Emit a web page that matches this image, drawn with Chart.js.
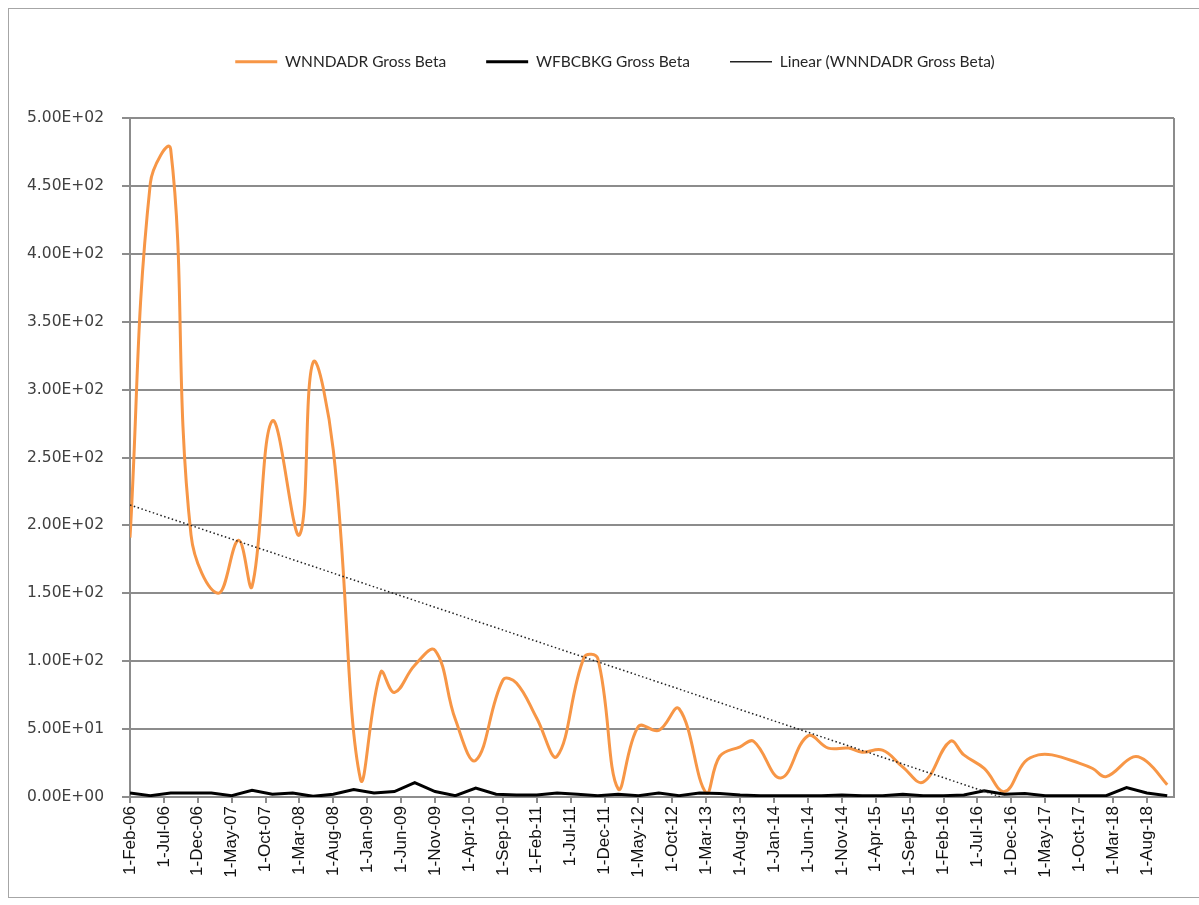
<!DOCTYPE html>
<html>
<head>
<meta charset="utf-8">
<script src="https://cdn.jsdelivr.net/npm/chart.js@4.4.1/dist/chart.umd.min.js"></script>
<style>
  html, body { margin: 0; padding: 0; background: #fff; }
  #wrap { position: relative; width: 1199px; height: 905px; }
  #frame { position: absolute; left: 8px; top: 8px; width: 1200px; height: 888px; border: 1px solid #a6a6a6; pointer-events: none; }
  canvas { position: absolute; left: 0; top: 0; }
</style>
</head>
<body>
<div id="wrap">
  <canvas id="myChart" width="1199" height="905"></canvas>
  <div id="frame"></div>
</div>
<script>
// WNNDADR observation dates (year-month) and values
const wnnDates = [
  '2006-02','2006-05','2006-08','2006-11','2007-03','2007-06','2007-08','2007-11',
  '2008-03','2008-05','2008-08','2008-12','2009-03','2009-05','2009-08','2009-11',
  '2010-02','2010-05','2010-09','2010-11','2011-02','2011-05','2011-09','2011-11',
  '2012-02','2012-05','2012-08','2012-11','2013-03','2013-05','2013-08','2013-10',
  '2014-02','2014-06','2014-09','2014-12','2015-02','2015-05','2015-08','2015-11',
  '2016-03','2016-05','2016-08','2016-11','2017-02','2017-04','2017-06','2017-10',
  '2017-12','2018-02','2018-06','2018-08','2018-11'
];
const wnndadr = [
  191, 452, 477, 193, 150, 189, 155, 277,
  193, 320, 255, 13, 92, 77, 97, 108,
  57, 27, 86, 84, 58, 30, 103, 102,
  6, 52, 49, 65, 3, 30, 37, 41,
  14, 45, 36, 36, 33, 34.5, 22, 11,
  41, 31, 21, 4, 26, 31, 31, 25,
  21, 15, 29.5, 26, 9
];

// WFBCBKG quarterly dates and values
const wfbDates = [
  '2006-02','2006-05','2006-08','2006-11','2007-02','2007-05','2007-08','2007-11',
  '2008-02','2008-05','2008-08','2008-11','2009-02','2009-05','2009-08','2009-11',
  '2010-02','2010-05','2010-08','2010-11','2011-02','2011-05','2011-08','2011-11',
  '2012-02','2012-05','2012-08','2012-11','2013-02','2013-05','2013-08','2013-11',
  '2014-02','2014-05','2014-08','2014-11','2015-02','2015-05','2015-08','2015-11',
  '2016-02','2016-05','2016-08','2016-11','2017-02','2017-05','2017-08','2017-11',
  '2018-02','2018-05','2018-08','2018-11'
];
const wfbcbkg = [
  3, 1, 3, 3, 3, 1, 5, 2, 3, 0.5, 2, 5.5, 3,
  4, 10.5, 4, 1, 6.5, 2, 1.5, 1.5, 3, 2, 1, 2, 1,
  3, 1, 3, 2.5, 1.5, 1, 1, 1, 1, 1.5, 1, 1, 2,
  1, 1, 1.5, 4.5, 2, 2.5, 1, 1, 1, 1, 7, 3, 1
];

// trendline end points
const trendDates = ['2006-02', '2018-11'];
const trendValues = [215, -41];

const xTickLabels = [
  '1-Feb-06','1-Jul-06','1-Dec-06','1-May-07','1-Oct-07','1-Mar-08','1-Aug-08',
  '1-Jan-09','1-Jun-09','1-Nov-09','1-Apr-10','1-Sep-10','1-Feb-11','1-Jul-11',
  '1-Dec-11','1-May-12','1-Oct-12','1-Mar-13','1-Aug-13','1-Jan-14','1-Jun-14',
  '1-Nov-14','1-Apr-15','1-Sep-15','1-Feb-16','1-Jul-16','1-Dec-16','1-May-17',
  '1-Oct-17','1-Mar-18','1-Aug-18'
];

const yTickLabels = [
  '0.00E+00','5.00E+01','1.00E+02','1.50E+02','2.00E+02','2.50E+02',
  '3.00E+02','3.50E+02','4.00E+02','4.50E+02','5.00E+02'
];

// months since Feb-06
function monthOf(d) {
  const p = d.split('-');
  return (parseInt(p[0], 10) - 2006) * 12 + (parseInt(p[1], 10) - 2);
}
function toPoints(ds, vals) {
  return ds.map((d, i) => ({ x: monthOf(d), y: vals[i] }));
}

const gridGray = '#8c8c8c';

// fixed room for the legend above the plot, legend nudged right like excel's
const legendRoom = {
  id: 'legendRoom',
  beforeInit(chart) {
    const fit = chart.legend.fit;
    chart.legend.fit = function () {
      fit.call(this);
      this.height = 104;
    };
  },
  afterLayout(chart) {
    chart.legend.left += 28;
    chart.legend.right += 28;
  }
};

// grey line on the right side of the plot area
const plotFrame = {
  id: 'plotFrame',
  beforeDatasetsDraw(chart) {
    const a = chart.chartArea, ctx = chart.ctx;
    ctx.save();
    ctx.strokeStyle = gridGray;
    ctx.lineWidth = 2;
    ctx.beginPath();
    ctx.moveTo(a.right, a.top);
    ctx.lineTo(a.right, a.bottom);
    ctx.stroke();
    ctx.restore();
  }
};

const data = {
  datasets: [{
    label: 'WNNDADR Gross Beta',
    data: toPoints(wnnDates, wnndadr),
    borderColor: '#F79646',
    backgroundColor: '#F79646',
    borderWidth: 3,
    pointRadius: 0,
    tension: 0.4,
    order: 3
  }, {
    label: 'WFBCBKG Gross Beta',
    data: toPoints(wfbDates, wfbcbkg),
    borderColor: '#000000',
    backgroundColor: '#000000',
    borderWidth: 3,
    pointRadius: 0,
    tension: 0,
    order: 2
  }, {
    label: 'Linear (WNNDADR Gross Beta)',
    data: toPoints(trendDates, trendValues),
    borderColor: '#222222',
    backgroundColor: '#222222',
    borderWidth: 1.5,
    borderDash: [1.5, 2.5],
    pointRadius: 0,
    tension: 0,
    order: 1
  }]
};

const config = {
  type: 'line',
  data: data,
  plugins: [legendRoom, plotFrame],
  options: {
    responsive: false,
    animation: false,
    devicePixelRatio: 1,
    layout: { padding: { top: 14, right: 25, bottom: 0, left: 0 } },
    plugins: {
      tooltip: { enabled: false },
      legend: {
        position: 'top',
        labels: {
          usePointStyle: true,
          pointStyle: 'line',
          pointStyleWidth: 42,
          padding: 40,
          color: '#262626',
          font: { family: 'Lato', size: 15.5 },
          sort: (a, b) => a.datasetIndex - b.datasetIndex
        }
      }
    },
    scales: {
      x: {
        type: 'linear',
        min: 0,
        max: 154,
        afterFit: (scale) => { scale.height = 108; },
        border: { color: gridGray, width: 2 },
        grid: { drawOnChartArea: false, drawTicks: true, tickLength: 6, color: gridGray, lineWidth: 2 },
        ticks: {
          stepSize: 5,
          includeBounds: false,
          autoSkip: false,
          maxRotation: 90,
          minRotation: 90,
          padding: 3,
          color: '#111',
          font: { family: 'Liberation Sans', size: 17 },
          callback: (v) => xTickLabels[Math.round(v / 5)]
        }
      },
      y: {
        min: 0,
        max: 500,
        afterFit: (scale) => { scale.width = 130; },
        border: { color: gridGray, width: 2 },
        grid: { color: gridGray, lineWidth: 2, tickLength: 8 },
        ticks: {
          stepSize: 50,
          padding: 18,
          color: '#404040',
          font: { family: 'DejaVu Sans', size: 15.5 },
          callback: (v, i) => yTickLabels[i]
        }
      }
    }
  }
};

const myChart = new Chart(document.getElementById('myChart'), config);
</script>
</body>
</html>
